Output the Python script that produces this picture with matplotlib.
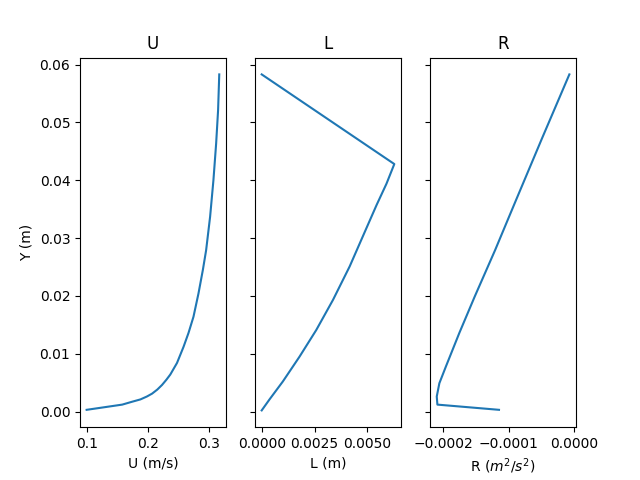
import matplotlib

matplotlib.use("Agg")
import matplotlib.pyplot as plt

# velocity profile U(y)
u_y = [0.0003, 0.0012, 0.0017, 0.0021, 0.0026, 0.0031, 0.0038, 0.0046,
       0.0055, 0.0064, 0.0084, 0.0112, 0.0136, 0.0164, 0.0204, 0.0245,
       0.0279, 0.0337, 0.0400, 0.0463, 0.0521, 0.0583]
u_val = [0.0998, 0.1578, 0.1740, 0.1875, 0.1980, 0.2065, 0.2150, 0.2227,
         0.2298, 0.2362, 0.2471, 0.2578, 0.2659, 0.2740, 0.2821, 0.2893,
         0.2946, 0.3011, 0.3065, 0.3109, 0.3141, 0.3160]

# mixing length L(y)
l_y = [0.0002, 0.0021, 0.0052, 0.0095, 0.0141, 0.0193, 0.0251, 0.0317,
       0.0357, 0.0394, 0.0428, 0.0583]
l_val = [0.0000, 0.00037, 0.00100, 0.00179, 0.00258, 0.00337, 0.00416,
         0.00495, 0.00543, 0.00590, 0.00627, 0.0000]

# Reynolds stress R(y)
r_y = [0.0003, 0.0012, 0.0026, 0.0049, 0.0078, 0.0136, 0.0199, 0.0279,
       0.0363, 0.0472, 0.0583]
r_val = [-0.000115, -0.000209, -0.000210, -0.000206, -0.000196, -0.0001755,
         -0.000152, -0.000121, -0.0000900, -0.0000495, -0.0000076]

fig, axes = plt.subplots(1, 3, sharey=True, figsize=(6.4, 4.8), dpi=100)

axes[0].plot(u_val, u_y)
axes[0].set(title="U", xlabel="U (m/s)", ylabel="Y (m)")

axes[1].plot(l_val, l_y)
axes[1].set(title="L", xlabel="L (m)")

axes[2].plot(r_val, r_y)
axes[2].set(title="R", xlabel="R ($m^2/s^2$)")

fig.savefig("out.png", dpi=100)
